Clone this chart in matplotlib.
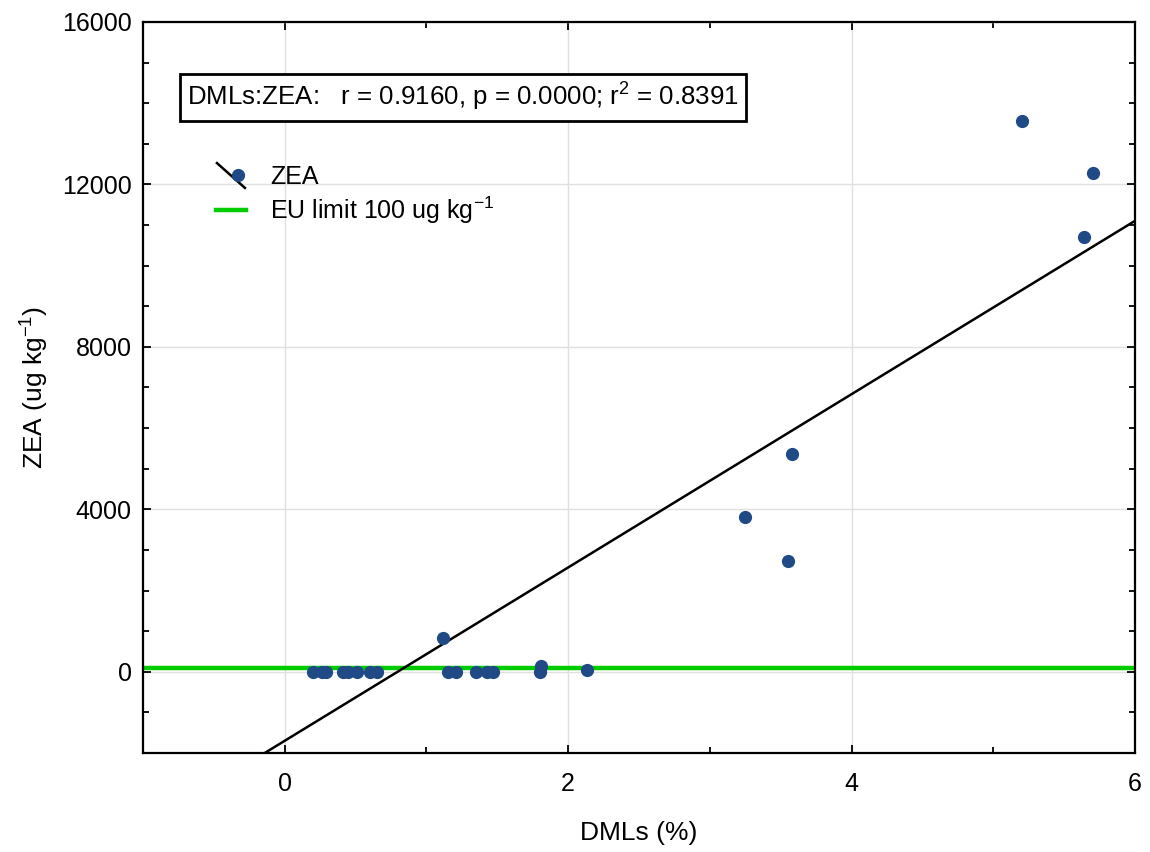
import numpy as np
import matplotlib.pyplot as plt
from matplotlib.ticker import MultipleLocator

plt.rcParams["font.family"] = ["Liberation Sans", "DejaVu Sans"]
plt.rcParams["mathtext.fontset"] = "custom"
plt.rcParams["mathtext.rm"] = "Liberation Sans"
plt.rcParams["mathtext.default"] = "regular"

# DMLs (%) and ZEA (ug/kg)
dmls = [0.20, 0.26, 0.29, 0.41, 0.45, 0.51, 0.60, 0.65,
        1.12, 1.15, 1.21, 1.35, 1.43, 1.47, 1.80, 1.81, 2.13,
        3.25, 3.55, 3.58, 5.20, 5.64, 5.70]
zea = [0, 0, 0, 0, 0, 0, 0, 0,
       840, 0, 0, 0, 0, 0, 0, 130, 50,
       3820, 2730, 5350, 13570, 10710, 12290]

# fitted line as drawn in the reference (the full data set is not all visible)
REG_SLOPE = 2134
REG_INTERCEPT = -1700

EU_LIMIT = 100
STATS_TEXT = "DMLs:ZEA:   r = 0.9160, p = 0.0000; r$^2$ = 0.8391"

x = np.array(dmls)
y = np.array(zea)

fig = plt.figure(figsize=(11.5, 8.52), dpi=100)
ax = fig.add_axes([0.1243, 0.1162, 0.8627, 0.8580])

ax.set_xlim(-1, 6)
ax.set_ylim(-2000, 16000)
ax.xaxis.set_major_locator(MultipleLocator(2))
ax.xaxis.set_minor_locator(MultipleLocator(1))
ax.yaxis.set_major_locator(MultipleLocator(4000))
ax.yaxis.set_minor_locator(MultipleLocator(1000))
ax.grid(True, which="major", color="#e0e0e0", linewidth=1.0, zorder=0)
ax.set_axisbelow(True)

ax.tick_params(which="both", direction="in", top=True, right=True, width=1.3)
ax.tick_params(which="major", length=6, labelsize=18)
ax.tick_params(axis="x", which="major", pad=14)
ax.tick_params(axis="y", which="major", pad=8)
ax.tick_params(which="minor", length=4)
for s in ax.spines.values():
    s.set_linewidth(1.6)

# EU limit line
ax.axhline(EU_LIMIT, color="#00cc00", linewidth=3.2, zorder=2)

# regression line
xl = np.array([-1, 6])
ax.plot(xl, REG_INTERCEPT + REG_SLOPE * xl, color="black", linewidth=1.8, zorder=3)

# data points
ax.plot(x, y, "o", color="#1f4a86", markersize=8.5, zorder=4)

ax.set_xlabel("DMLs (%)", fontsize=19, labelpad=18)
ax.set_ylabel("ZEA (ug kg$^{-1}$)", fontsize=19, labelpad=8)

# stats box
ax.text(0.0445, 0.897, STATS_TEXT, transform=ax.transAxes, fontsize=18.6,
        va="center", ha="left",
        bbox=dict(boxstyle="square,pad=0.28", facecolor="white",
                  edgecolor="black", linewidth=2))

# hand-made legend
ax.plot([0.0746, 0.1028], [0.807, 0.773], transform=ax.transAxes,
        color="black", linewidth=1.8)
ax.plot([0.0958], [0.791], "o", transform=ax.transAxes,
        color="#1f4a86", markersize=8.5)
ax.text(0.128, 0.788, "ZEA", transform=ax.transAxes, fontsize=18, va="center")
ax.plot([0.0736, 0.104], [0.743, 0.743], transform=ax.transAxes,
        color="#00cc00", linewidth=3.2)
ax.text(0.128, 0.743, "EU limit 100 ug kg$^{-1}$", transform=ax.transAxes,
        fontsize=18, va="center")

fig.savefig("out.png", dpi=100)
